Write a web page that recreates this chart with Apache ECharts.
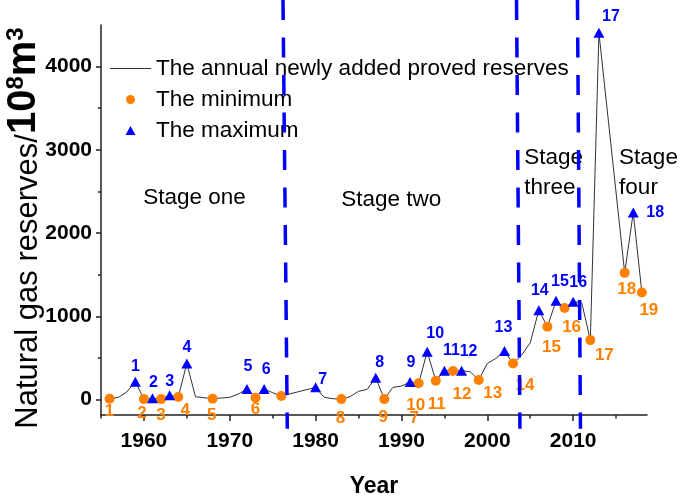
<!DOCTYPE html>
<html><head><meta charset="utf-8">
<script src="https://cdn.jsdelivr.net/npm/echarts@6/dist/echarts.min.js"></script>
<style>html,body{margin:0;padding:0;background:#fff}#c{width:685px;height:504px}</style>
</head><body><div id="c"></div>
<script>
// ---------------- data ----------------
const years = [1956,1957,1958,1959,1960,1961,1962,1963,1964,1965,1966,1967,1968,1969,1970,1971,1972,1973,1974,1975,1976,1980,1981,1982,1983,1984,1985,1986,1987,1988,1989,1990,1991,1992,1993,1994,1995,1996,1997,1998,1999,2000,2001,2002,2003,2004,2005,2006,2007,2008,2009,2010,2011,2012,2013,2016,2017,2018];
const reserves = [10,25,90,215,5,15,5,50,30,434,34,22,10,18,26,66,126,22,126,82,42,146,26,10,5,34,98,122,262,5,146,162,210,195,574,225,346,342,346,334,234,434,494,582,434,534,682,1074,874,1186,1100,1174,1162,714,4406,1522,2246,1286];
const minYears = [1956,1960,1962,1964,1968,1973,1976,1983,1988,1992,1994,1996,1999,2003,2007,2009,2012,2016,2018];
const minValues = [10,5,5,30,10,22,42,5,5,195,225,342,234,434,874,1100,714,1522,1286];
const minLabels = ['1','2','3','4','5','6','7','8','9','10','11','12','13','14','15','16','17','18','19'];
const maxYears = [1959,1961,1963,1965,1972,1974,1980,1987,1991,1993,1995,1997,2002,2006,2008,2010,2013,2017];
const maxValues = [215,15,50,434,126,126,146,262,210,574,346,346,582,1074,1186,1174,4406,2246];
const maxLabels = ['1','2','3','4','5','6','7','8','9','10','11','12','13','14','15','16','17','18'];
const xTickLabels = [1960,1970,1980,1990,2000,2010];
const xMinorTicks = [1955,1965,1975,1985,1995,2005,2015];
const yTickLabels = [0,1000,2000,3000,4000];
const yMinorTicks = [500,1500,2500,3500];
const stageBoundaryTop = [1976.2, 2003.4, 2010.5];
const stageBoundaryBottom = [1976.7, 2003.8, 2010.85];
const stageNames = ['Stage one','Stage two','Stage\nthree','Stage\nfour'];
const stageYears = [1965.9, 1988.8, 2004.3, 2015.35];
const stageValues = [2418, 2394, 2730, 2730];
const seriesNames = ['The annual newly added proved reserves','The minimum','The maximum'];

// ---------------- layout / style ----------------
const FONT = 'Liberation Sans, Arial, sans-serif';
const ORANGE = '#FF8000', BLUE = '#0000FF';
const minLabelOffsets = [[0,13],[-2,14],[0,16],[7,13],[-1,17],[0,12],[133,22],[-1,19],[-1,18],[-3,22],[1,24],[9,23],[14,13],[12,22],[4,21],[7,19],[14,15],[2,16],[7,18]];
const maxLabelOffsets = [[0,-15],[1,-16],[0,-14],[0,-16],[1,-22],[2,-19],[7,-8],[4,-15],[1,-19],[8,-18],[7,-20],[7,-19],[-1,-23],[1,-20],[4,-19],[5,-19],[12,-16],[22,0]];
const stageAlign = ['center','center','left','left'];

const X_MIN = 1955, X_MAX = 2018.6, Y_MIN = -186, Y_MAX = 4500;

const chart = echarts.init(document.getElementById('c'), null, {renderer:'canvas'});

const axisLineStyle = {color:'#222', width:1.5};
const series = [];
series.push({
  name: seriesNames[0], type:'line', data: years.map((y,i)=>[y,reserves[i]]),
  symbol:'none', showSymbol:false, lineStyle:{color:'#333', width:1}, itemStyle:{color:'#333'}, z:2, animation:false
});
series.push({
  name: seriesNames[1], type:'scatter', symbol:'circle', symbolSize:10,
  itemStyle:{color:ORANGE, opacity:1}, z:4, animation:false,
  data: minYears.map((y,i)=>({name:minLabels[i], value:[y,minValues[i]], label:{offset:minLabelOffsets[i]}})),
  label:{show:true, position:'inside', formatter:'{b}', color:ORANGE, fontFamily:FONT, fontWeight:'bold', fontSize:17}
});
series.push({
  name: seriesNames[2], type:'scatter', symbol:'triangle', symbolSize:[11,10],
  itemStyle:{color:BLUE, opacity:1}, z:4, animation:false,
  data: maxYears.map((y,i)=>({name:maxLabels[i], value:[y,maxValues[i]], label:{offset:maxLabelOffsets[i]}})),
  label:{show:true, position:'inside', formatter:'{b}', color:BLUE, fontFamily:FONT, fontWeight:'bold', fontSize:16}
});
series.push({
  name:'stages', type:'scatter', symbolSize:0, silent:true, animation:false, z:5,
  itemStyle:{opacity:1},
  data: stageNames.map((n,i)=>({name:n, value:[stageYears[i], stageValues[i]], label:{align:stageAlign[i]}})),
  label:{show:true, position:'inside', formatter:'{b}', color:'#000', fontFamily:FONT, fontSize:22.5, lineHeight:30}
});
stageBoundaryTop.forEach((t,i)=>{
  series.push({
    name:'boundary'+i, type:'line', clip:false, symbol:'none', silent:true, animation:false, z:10,
    data:[[t,4800],[stageBoundaryBottom[i],-350]],
    lineStyle:{color:BLUE, width:3.5, type:[20,17.5]}
  });
});

const plain = v => String(v);

chart.setOption({
  animation:false,
  backgroundColor:'#fff',
  grid:{left:101, right:38, top:25, bottom:89, containLabel:false, outerBoundsMode:'none'},
  legend:{
    data: [
      {name:seriesNames[0], icon:'path://M0,0L40,0L40,1.2L0,1.2Z'},
      {name:seriesNames[1], icon:'circle'},
      {name:seriesNames[2], icon:'path://M5,0L10,9L0,9Z'}
    ],
    orient:'vertical', left:105, top:52, itemWidth:41, itemHeight:9, itemGap:8,
    symbolKeepAspect:true,
    textStyle:{fontFamily:FONT, fontSize:22.5, color:'#000', lineHeight:22}
  },
  xAxis:[{
    type:'value', min:X_MIN, max:X_MAX, position:'bottom',
    axisLine:{show:true, lineStyle:axisLineStyle, onZero:false},
    axisTick:{show:true, customValues:xTickLabels, length:6, lineStyle:axisLineStyle},
    axisLabel:{customValues:xTickLabels, formatter:plain, fontFamily:FONT, fontWeight:'bold', fontSize:21, color:'#000', margin:16},
    splitLine:{show:false},
    name:'Year', nameLocation:'middle', nameGap:60, nameMoveOverlap:false,
    nameTextStyle:{fontFamily:FONT, fontWeight:'bold', fontSize:23, color:'#000'}
  },{
    type:'value', min:X_MIN, max:X_MAX, position:'bottom',
    axisLine:{show:false, onZero:false},
    axisTick:{show:true, customValues:xMinorTicks, length:3.5, lineStyle:axisLineStyle},
    axisLabel:{show:false}, splitLine:{show:false}
  }],
  yAxis:[{
    type:'value', min:Y_MIN, max:Y_MAX, position:'left',
    axisLine:{show:true, lineStyle:axisLineStyle, onZero:false},
    axisTick:{show:true, customValues:yTickLabels, length:5, lineStyle:axisLineStyle},
    axisLabel:{customValues:yTickLabels, formatter:plain, fontFamily:FONT, fontWeight:'bold', fontSize:21, color:'#000', margin:9},
    splitLine:{show:false},
    name:'{n|Natural gas reserves/}{b|10}{s|8}{b|m}{s|3}',
    nameLocation:'middle', nameRotate:90, nameGap:57, nameMoveOverlap:false,
    nameTextStyle:{
      color:'#000',
      padding:[0,16,0,0],
      rich:{
        n:{fontFamily:FONT, fontSize:31, color:'#000', lineHeight:40, verticalAlign:'bottom'},
        b:{fontFamily:FONT, fontSize:40, fontWeight:'bold', color:'#000', lineHeight:40, verticalAlign:'bottom'},
        s:{fontFamily:FONT, fontSize:24, fontWeight:'bold', color:'#000', lineHeight:24, verticalAlign:'top'}
      }
    }
  },{
    type:'value', min:Y_MIN, max:Y_MAX, position:'left',
    axisLine:{show:false, onZero:false},
    axisTick:{show:true, customValues:yMinorTicks, length:3, lineStyle:axisLineStyle},
    axisLabel:{show:false}, splitLine:{show:false}
  }],
  series: series
});
</script>
</body></html>
